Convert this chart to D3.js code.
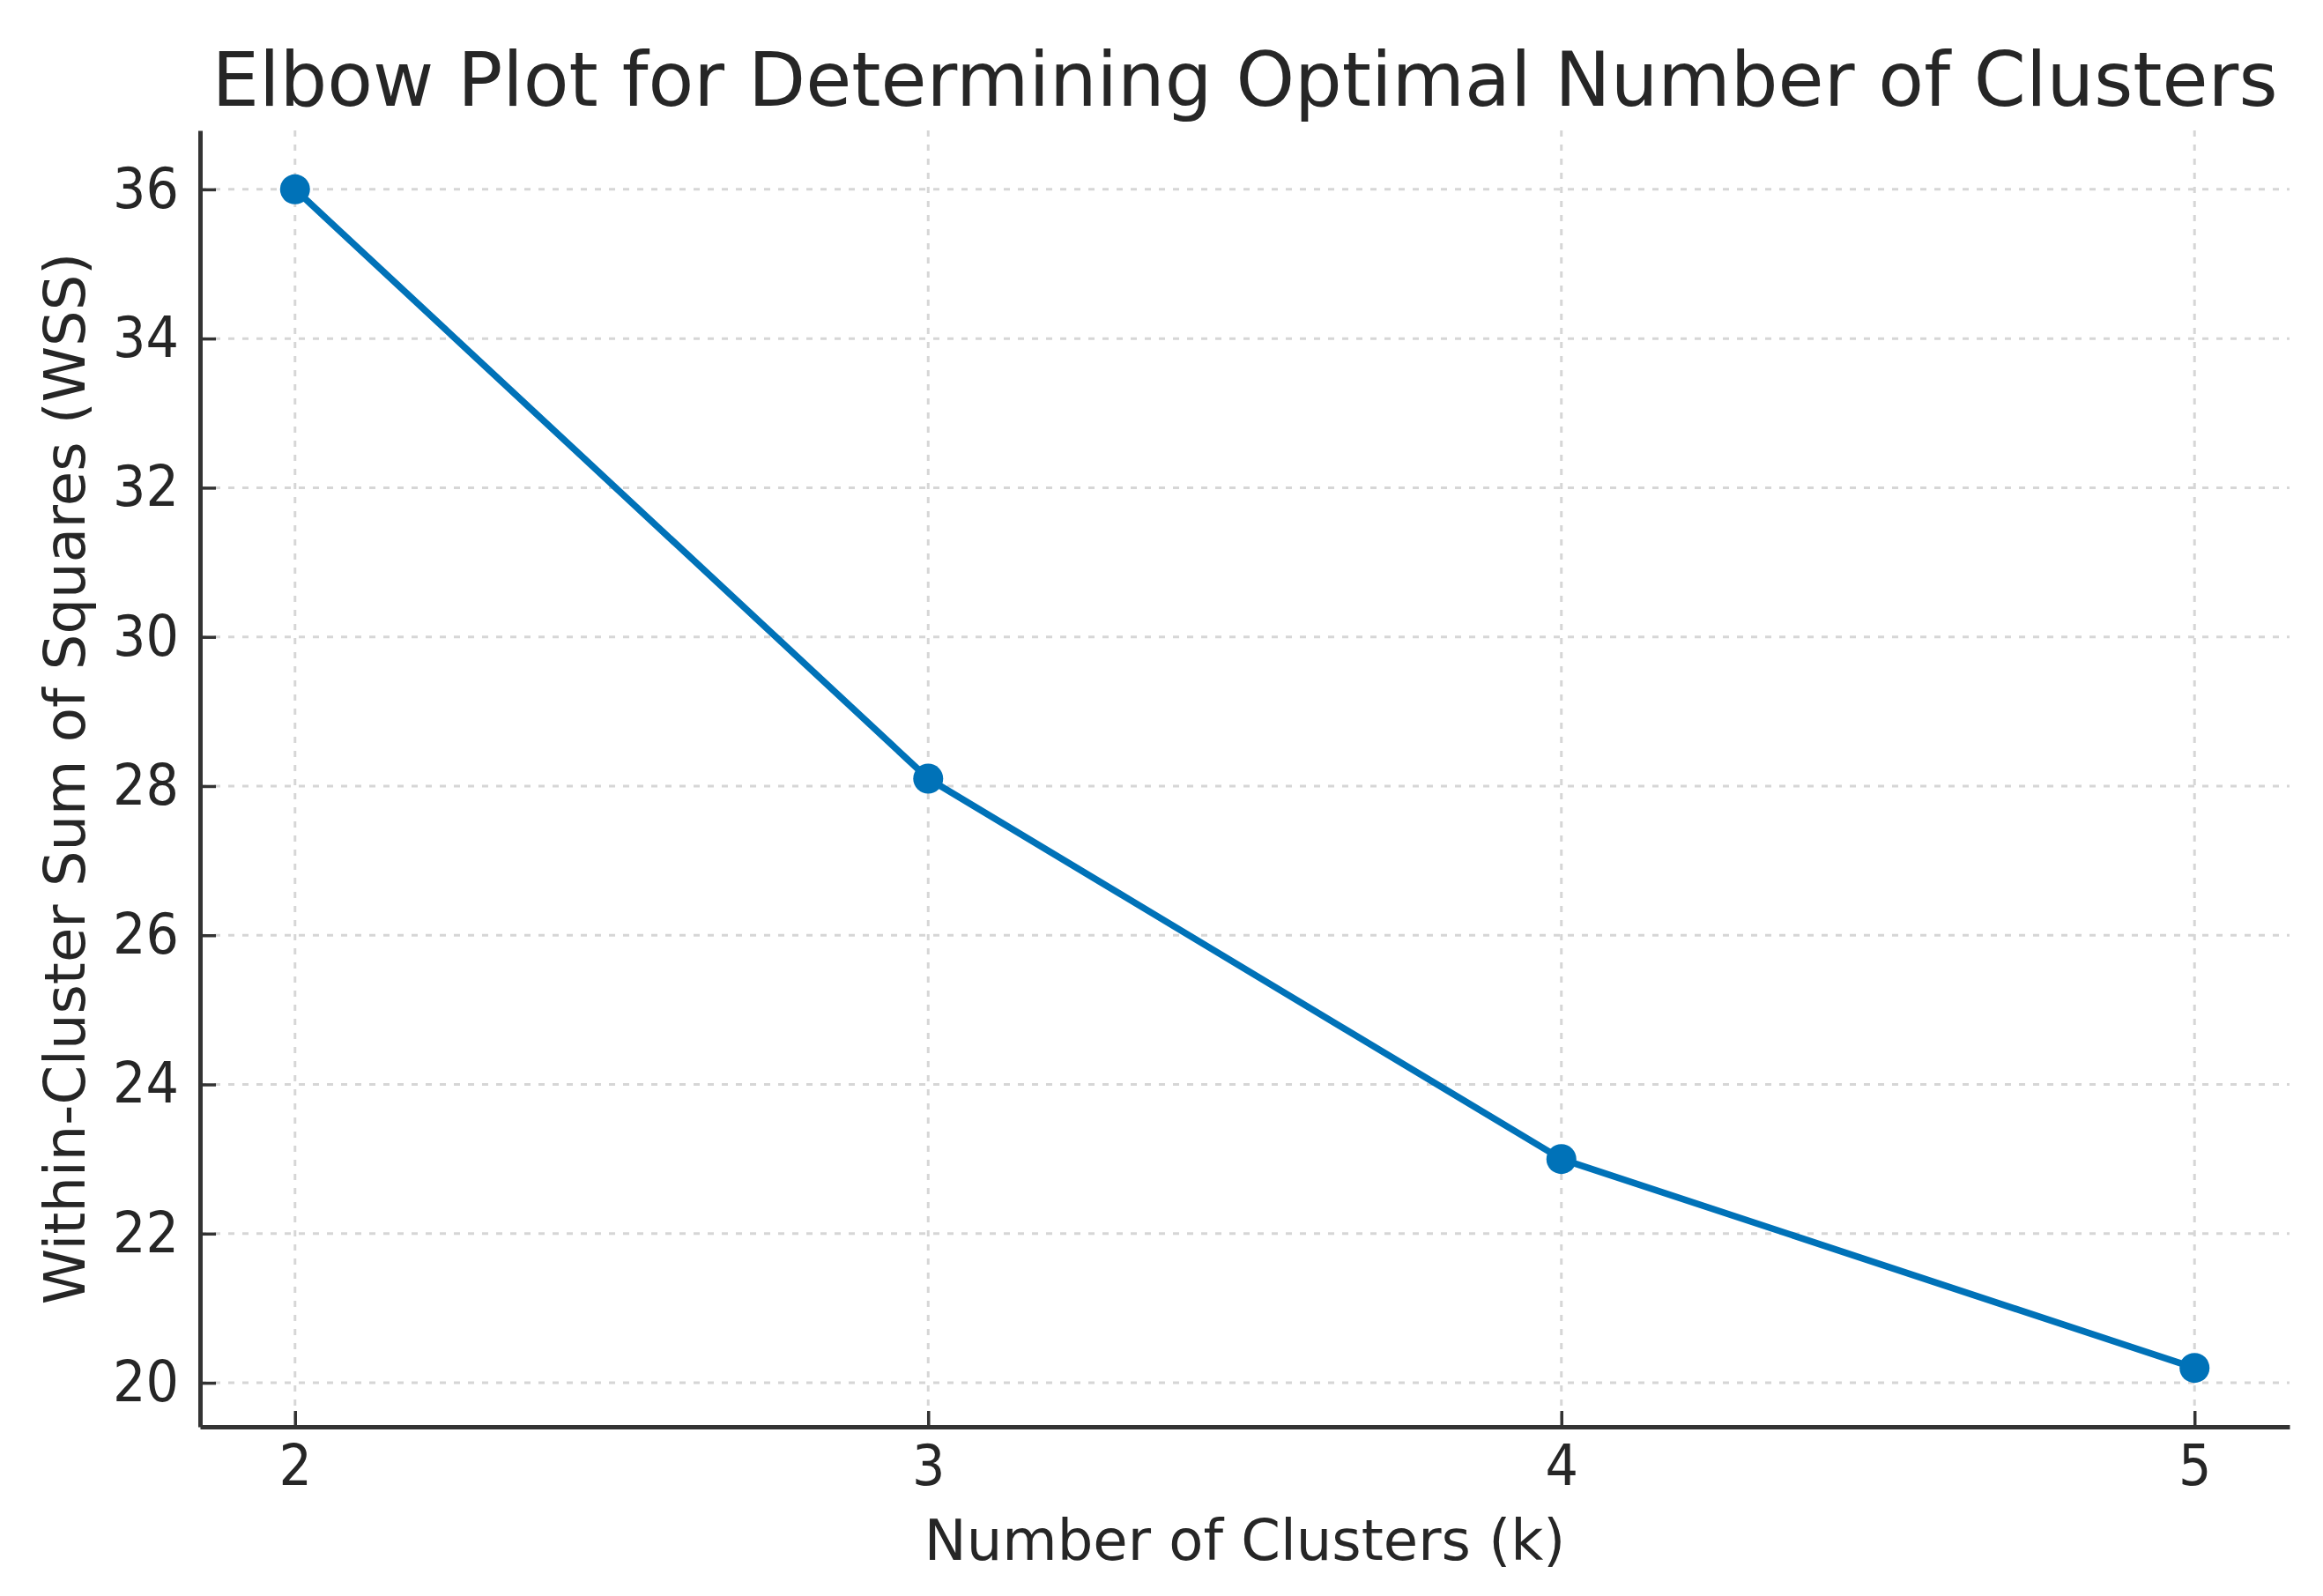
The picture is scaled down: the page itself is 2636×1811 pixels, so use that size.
<!DOCTYPE html>
<html>
<head>
<meta charset="utf-8">
<script src="https://cdn.jsdelivr.net/npm/d3@7"></script>
<style>
  html, body { margin: 0; padding: 0; background: #ffffff; }
  svg { display: block; }
  text { font-family: "DejaVu Sans", sans-serif; }
</style>
</head>
<body>
<svg id="chart" width="2636" height="1811"></svg>
<script>
// ---- data ----
const kValues = [2, 3, 4, 5];
const wssValues = [36.0, 28.1, 23.0, 20.2];
const xTickValues = [2, 3, 4, 5];
const yTickValues = [20, 22, 24, 26, 28, 30, 32, 34, 36];
const titleText = "Elbow Plot for Determining Optimal Number of Clusters";
const xLabelText = "Number of Clusters (k)";
const yLabelText = "Within-Cluster Sum of Squares (WSS)";

// ---- layout ----
const W = 2636, H = 1811;
const plot = { left: 227, right: 2598, top: 148, bottom: 1619 };
const lineColor = "#0072B8";
const inkColor = "#262626";
const spineColor = "#333333";

const svg = d3.select("#chart");
svg.append("rect").attr("width", W).attr("height", H).attr("fill", "#ffffff");

const kExt = d3.extent(kValues), wExt = d3.extent(wssValues);
const kPad = (kExt[1] - kExt[0]) * 0.05, wPad = (wExt[1] - wExt[0]) * 0.05;
const x = d3.scaleLinear().domain([kExt[0] - kPad, kExt[1] + kPad]).range([plot.left, plot.right]);
const y = d3.scaleLinear().domain([wExt[0] - wPad, wExt[1] + wPad]).range([plot.bottom, plot.top]);

// grid
const grid = svg.append("g").attr("class", "grid")
  .attr("stroke", "#d6d6d6").attr("stroke-width", 3).attr("stroke-dasharray", "7,9");
grid.selectAll("line.v").data(xTickValues).join("line").attr("class", "v")
  .attr("x1", d => x(d)).attr("x2", d => x(d))
  .attr("y1", plot.top).attr("y2", plot.bottom);
grid.selectAll("line.h").data(yTickValues).join("line").attr("class", "h")
  .attr("y1", d => y(d)).attr("y2", d => y(d))
  .attr("x1", plot.left).attr("x2", plot.right);

// axes
const xAxis = d3.axisBottom(x).tickValues(xTickValues).tickFormat(d3.format("d"))
  .tickSizeInner(-18).tickSizeOuter(0).tickPadding(21);
const yAxis = d3.axisLeft(y).tickValues(yTickValues).tickFormat(d3.format("d"))
  .tickSizeInner(-18).tickSizeOuter(0).tickPadding(24);

const gx = svg.append("g").attr("transform", `translate(0,${plot.bottom})`).call(xAxis);
const gy = svg.append("g").attr("transform", `translate(${plot.left},0)`).call(yAxis);
[gx, gy].forEach(g => {
  g.select(".domain").attr("stroke", spineColor).attr("stroke-width", 5);
  g.selectAll(".tick line").attr("stroke", spineColor).attr("stroke-width", 3.5);
  g.selectAll(".tick text").attr("fill", inkColor)
    .style("font-family", "'DejaVu Sans', sans-serif").style("font-size", "64px")
    .each(function () {
      const len = this.getComputedTextLength();
      d3.select(this).attr("textLength", len * 0.92).attr("lengthAdjust", "spacingAndGlyphs");
    });
});

// line + markers
const line = d3.line().x((d, i) => x(kValues[i])).y(d => y(d));
svg.append("path").datum(wssValues)
  .attr("fill", "none").attr("stroke", lineColor).attr("stroke-width", 7.5)
  .attr("stroke-linejoin", "round").attr("d", line);
svg.append("g").selectAll("circle").data(wssValues).join("circle")
  .attr("cx", (d, i) => x(kValues[i])).attr("cy", d => y(d))
  .attr("r", 17).attr("fill", lineColor);

// title and labels
const cx = (plot.left + plot.right) / 2, cy = (plot.top + plot.bottom) / 2;
svg.append("text").attr("x", cx).attr("y", 120).attr("text-anchor", "middle")
  .attr("fill", inkColor).style("font-size", "86px")
  .attr("textLength", 2344).attr("lengthAdjust", "spacingAndGlyphs")
  .text(titleText);
svg.append("text").attr("x", cx).attr("y", 1770).attr("text-anchor", "middle")
  .attr("fill", inkColor).style("font-size", "64px").text(xLabelText);
svg.append("text").attr("transform", `translate(96,${cy}) rotate(-90)`)
  .attr("text-anchor", "middle").attr("fill", inkColor).style("font-size", "64px")
  .text(yLabelText);
</script>
</body>
</html>
